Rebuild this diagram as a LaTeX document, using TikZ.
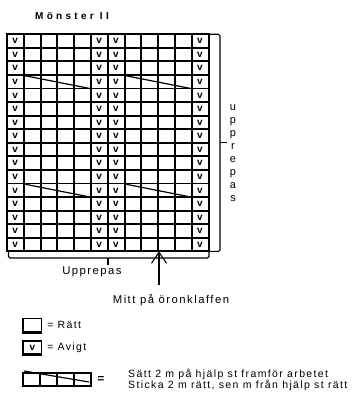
\documentclass[tikz,border=0pt]{standalone}
\usepackage{fontspec}
\setmainfont{Liberation Sans}[LetterSpace=13]
\usetikzlibrary{arrows.meta,positioning}
\tikzset{
 gridline/.style={line width=1.9pt},
 vmark/.style={font=\fontsize{10}{10}\selectfont\bfseries,inner sep=0pt},
 cable/.style={line width=1.2pt},
 brace/.style={line width=1.1pt,rounded corners=1.5pt},
 arrow/.style={-{Straight Barb[length=11pt,width=15pt]},line width=1.1pt},
 note/.style={font=\fontsize{11.3}{13}\selectfont,inner sep=0pt},
 titel/.style={font=\fontsize{10}{12}\selectfont\bfseries\addfontfeature{LetterSpace=33},inner sep=0pt},
 legendbox/.style={draw,line width=1.1pt,minimum width=18pt,minimum height=13pt,inner sep=0pt},
 legendedge/.style={line width=2.3pt},
 legendtext/.style={font=\fontsize{10.5}{11}\selectfont,inner sep=0pt,align=left}
}
\def\colw{16.8}
\def\rowh{13.56}

\begin{document}
\begin{tikzpicture}[x=1pt,y=-1pt]
\useasboundingbox (0,0) rectangle (354,403);
\node[titel] (titel) at (72,16) {Mönster II};

% diagram
\coordinate (gridnw) at (7,34.3);
\coordinate (gridse) at (7+12*\colw,34.3+16*\rowh);
\foreach \i in {1,...,11}
  \draw[gridline] (7+\i*\colw,34.3) -- (7+\i*\colw,34.3+16*\rowh);
\foreach \j in {1,...,15}
  \draw[gridline] (7,34.3+\j*\rowh) -- (7+12*\colw,34.3+\j*\rowh);
\draw[gridline] (gridnw) rectangle (gridse);
\foreach \c in {0,5,6,11}
  \foreach \r in {0,...,15}
    \node[vmark] (v-\c-\r) at (7+\c*\colw+8.2,34.3+\r*\rowh+6.9) {v};
\foreach \r in {3,11}
  \foreach \c in {1,7}
    \draw[cable] (7+\c*\colw,34.3+\r*\rowh+0.5) -- (7+\c*\colw+4*\colw-1,34.3+\r*\rowh+\rowh);

% upprepas
\draw[brace] (210,34.3) -- (220,34.3) -- (220,251.3) -- (210,251.3);
\draw[brace] (220,142.8) -- (227,142.8);
\node[note,align=center,font=\fontsize{11}{13}\selectfont] (upprepasv) at (233,153.5)
  {u\\p\\p\\r\\e\\p\\a\\s};
\draw[brace] (8.5,251.3) -- (8.5,258) -- (209,258) -- (209,251.3);
\draw[brace] (108,258) -- (108,265);
\node[note,anchor=base] (upprepas) at (92,274.5) {Upprepas};

% mitt
\node[note,anchor=base] (mitt) at (171,303) {Mitt på öronklaffen};
\coordinate (mittpunkt) at (159,251.3);
\coordinate (pilfot) at (159,285);
\draw[arrow] (pilfot) -- (mittpunkt);

% legend
\node[legendbox] (ratt) at (32.5,325.3) {};
\draw[legendedge] (ratt.north west) |- (ratt.south east);
\node[legendtext,right=5pt of ratt] (rattnote) {= Rätt};
\node[legendbox,vmark] (avigt) at (32.5,347.5) {v};
\draw[legendedge] (avigt.north west) |- (avigt.south east);
\node[legendtext,right=5pt of avigt] (avigtnote) {= Avigt};
\coordinate (kabelnw) at (23,373);
\coordinate (kabelse) at (91,386);
\draw[line width=1.3pt] (kabelnw) rectangle (kabelse);
\foreach \i in {1,2,3}
  \draw[line width=1.6pt] (23+\i*17,373) -- (23+\i*17,386);
\draw[legendedge] (kabelnw) |- (kabelse);
\draw[cable] (24,371) -- (89,382);
\node[legendtext,font=\fontsize{11.5}{11}\selectfont\bfseries] (kabellika) at (101,379.5) {=};
\node[legendtext,anchor=west] (kabelnote) at (128,379.5)
  {Sätt 2 m på hjälp st framför arbetet\\Sticka 2 m rätt, sen m från hjälp st rätt};
\end{tikzpicture}
\end{document}
